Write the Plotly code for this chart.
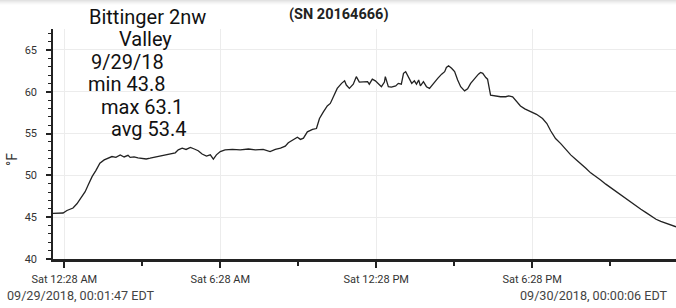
import datetime as dt
import plotly.graph_objects as go

# ---- data -------------------------------------------------------------
DAY = dt.datetime(2018, 9, 29)
times = [
    "00:01:47", "00:25", "00:34", "00:48", "00:57", "01:04", "01:16", "01:23", "01:32", "01:41",
    "01:50", "02:00", "02:09", "02:18", "02:27", "02:37", "02:46", "02:55", "03:00", "03:09",
    "03:18", "03:28", "03:37", "03:46", "03:58", "04:09", "04:21", "04:32", "04:44", "04:51",
    "05:00", "05:09", "05:19", "05:28", "05:37", "05:46", "05:56", "06:05", "06:12", "06:19",
    "06:28", "06:39", "06:56", "07:14", "07:33", "07:49", "08:07", "08:23", "08:35", "08:47",
    "08:58", "09:05", "09:14", "09:26", "09:33", "09:40", "09:49", "10:01", "10:10", "10:17",
    "10:26", "10:35", "10:42", "10:49", "10:58", "11:08", "11:15", "11:19", "11:26", "11:35",
    "11:42", "11:49", "11:59", "12:08", "12:12", "12:19", "12:26", "12:33", "12:40", "12:47",
    "12:49", "12:56", "13:03", "13:13", "13:19", "13:26", "13:31", "13:36", "13:43", "13:50",
    "13:56", "14:01", "14:06", "14:10", "14:17", "14:24", "14:31", "14:40", "14:50", "14:59",
    "15:06", "15:10", "15:15", "15:22", "15:29", "15:36", "15:43", "15:52", "15:59", "16:06",
    "16:15", "16:24", "16:29", "16:34", "16:41", "16:45", "16:52", "17:01", "17:15", "17:27",
    "17:34", "17:43", "17:52", "18:01", "18:11", "18:25", "18:38", "18:52", "19:02", "19:11",
    "19:22", "19:34", "19:46", "19:57", "20:09", "20:20", "20:32", "20:43", "20:55", "21:06",
    "21:18", "21:30", "21:41", "21:53", "22:04", "22:16", "22:27", "22:39", "22:51", "23:02",
    "23:14", "23:25", "23:37", "23:48", "24:00:06",
]
temps_f = [
    45.45, 45.5, 45.8, 46.1, 46.6, 47.1, 48.05, 48.85, 49.85, 50.6,
    51.45, 51.85, 52.05, 52.25, 52.15, 52.45, 52.2, 52.4, 52.15, 52.2,
    52.1, 52.0, 51.96, 52.05, 52.2, 52.3, 52.5, 52.55, 52.7, 53.05,
    53.25, 53.1, 53.35, 53.15, 52.95, 52.55, 52.3, 52.45, 51.95, 52.45,
    52.85, 53.05, 53.1, 53.05, 53.15, 53.05, 53.1, 52.85, 53.1, 53.25,
    53.5, 53.9, 54.2, 54.55, 54.3, 54.45, 55.2, 55.5, 55.6, 56.8,
    57.6, 58.3, 58.6, 59.4, 60.4, 61.0, 61.3, 60.8, 60.4, 60.9,
    61.8, 61.15, 61.15, 61.2, 60.9, 61.5, 61.3, 61.0, 60.6, 61.15,
    61.8, 60.6, 60.55, 60.7, 61.0, 60.9, 62.2, 62.4, 61.7, 61.0,
    61.3, 60.9, 61.4, 60.7, 61.2, 60.6, 60.4, 61.0, 61.6, 62.1,
    62.4, 62.9, 63.1, 62.8, 62.4, 61.4, 60.6, 60.1, 60.35, 61.0,
    61.6, 62.1, 62.3, 62.2, 61.7, 61.5, 59.6, 59.5, 59.4, 59.4,
    59.5, 59.4, 58.9, 58.3, 57.95, 57.6, 57.3, 56.8, 56.2, 55.3,
    54.4, 53.8, 53.1, 52.45, 51.9, 51.45, 50.85, 50.3, 49.9, 49.45,
    48.95, 48.5, 48.05, 47.65, 47.25, 46.75, 46.35, 45.95, 45.55, 45.15,
    44.75, 44.5, 44.25, 44.05, 43.85,
]
major_tick_times = ["00:28", "06:28", "12:28", "18:28"]
major_tick_labels = ["Sat 12:28 AM", "Sat 6:28 AM", "Sat 12:28 PM", "Sat 6:28 PM"]
minor_tick_times = ["03:28", "09:28", "15:28", "21:28"]
y_ticks = [40, 45, 50, 55, 60, 65]

title_text = "(SN 20164666)"
note_lines = ["Bittinger 2nw", "Valley", "9/29/18", "min 43.8", "max 63.1", "avg 53.4"]
start_label = "09/29/2018, 00:01:47 EDT"
end_label = "09/30/2018, 00:00:06 EDT"
y_unit = "°F"


def to_dt(s):
    parts = [int(p) for p in s.split(":")]
    while len(parts) < 3:
        parts.append(0)
    h, m, sec = parts
    return DAY + dt.timedelta(hours=h, minutes=m, seconds=sec)


x = [to_dt(t) for t in times]

# ---- geometry -----------------------------------------------------------
W, H = 676, 308
ML, MR, MT, MB = 53, 0, 29, 49
PW, PH = W - ML - MR, H - MT - MB


def px_x(p):
    return (p - ML) / PW


def px_y(p):
    return (H - MB - p) / PH


fig = go.Figure()
fig.add_trace(go.Scatter(x=x, y=temps_f, mode="lines",
                         line=dict(color="#222222", width=1.3),
                         hoverinfo="skip", showlegend=False))

fig.update_layout(
    width=W, height=H, autosize=False,
    margin=dict(l=ML, r=MR, t=MT, b=MB, pad=0),
    paper_bgcolor="white", plot_bgcolor="white",
    font=dict(family="Roboto, sans-serif", color="#333"),
)

fig.update_xaxes(
    range=[x[0], x[-1]],
    tickmode="array",
    tickvals=[to_dt(t) for t in major_tick_times],
    ticktext=major_tick_labels,
    ticks="outside", ticklen=6, tickwidth=2, tickcolor="#222",
    ticklabelstandoff=2,
    tickfont=dict(size=11, color="#333"),
    showgrid=True, gridcolor="#ececec", gridwidth=1,
    showline=True, linecolor="#222", linewidth=2.5,
    zeroline=False,
    minor=dict(tickmode="array", tickvals=[to_dt(t) for t in minor_tick_times],
               ticks="outside", ticklen=4, tickwidth=2, tickcolor="#222", showgrid=False),
)
fig.update_yaxes(
    range=[40, 67.5],
    tickmode="array", tickvals=y_ticks,
    ticks="outside", ticklen=5, tickwidth=1.5, tickcolor="#222",
    ticklabelstandoff=7,
    tickfont=dict(size=11, color="#333"),
    showgrid=True, gridcolor="#ececec", gridwidth=1,
    showline=True, linecolor="#222", linewidth=1.5,
    zeroline=False,
    minor=dict(dtick=1, tick0=40, ticks="outside", ticklen=3, tickwidth=1.2,
               tickcolor="#222", showgrid=False),
)

# top shadow strip
for i, c in enumerate(["#e2e2e2", "#eaeaea", "#f1f1f1", "#f7f7f7", "#fcfcfc"]):
    fig.add_shape(type="rect", xref="paper", yref="paper",
                  x0=px_x(0), x1=px_x(W), y0=px_y(i + 1), y1=px_y(i),
                  fillcolor=c, line=dict(width=0), layer="above")

ann = []
ann.append(dict(text=f"<b>{title_text}</b>", x=px_x(338.5), y=px_y(15),
                font=dict(size=14.5, color="#222")))
note_x = [147, 145.5, 127.5, 126.5, 141.5, 148]
note_y = [17, 39, 62, 84, 107, 129]
for t, nx, ny in zip(note_lines, note_x, note_y):
    ann.append(dict(text=t, x=px_x(nx), y=px_y(ny), font=dict(size=20, color="#111")))
ann.append(dict(text=start_label, x=px_x(5), y=px_y(295), xanchor="left",
                font=dict(size=12.6, color="#444")))
ann.append(dict(text=end_label, x=px_x(670), y=px_y(295), xanchor="right",
                font=dict(size=12.6, color="#444")))
ann.append(dict(text=y_unit, x=px_x(12), y=px_y(160), textangle=-90,
                font=dict(size=14, color="#333")))
for a in ann:
    a.setdefault("xanchor", "center")
    a.update(xref="paper", yref="paper", yanchor="middle", showarrow=False)
    fig.add_annotation(**a)

fig.write_html("out.html")
